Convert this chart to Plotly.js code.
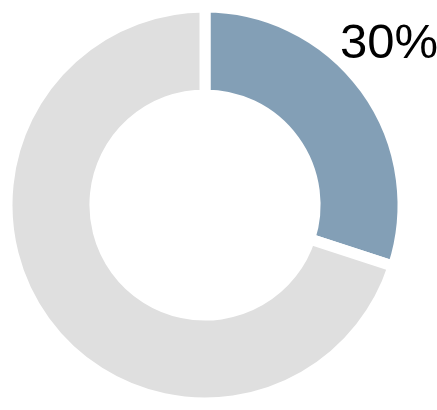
<!DOCTYPE html>
<html>
<head>
<meta charset="utf-8">
<script src="https://cdn.plot.ly/plotly-3.0.1.min.js"></script>
<style>
  html, body { margin: 0; padding: 0; background: #fff; }
  #chart { width: 437px; height: 410px; }
</style>
</head>
<body>
<div id="chart"></div>
<script>
// donut: share vs remainder
const labels = ["Share", "Rest"],
  values = [30, 70],
  colors = ["#839fb6", "#dfdfdf"],
  share_label = "30%";

var data = [{
  type: "pie",
  labels: labels,
  values: values,
  hole: 0.556,
  sort: false,
  direction: "clockwise",
  rotation: 0,
  textinfo: "none",
  hoverinfo: "none",
  marker: { colors: colors, line: { color: "#ffffff", width: 11 } },
  domain: { x: [7/437, 403/437], y: [7/410, 403/410] }
}];

var layout = {
  width: 437,
  height: 410,
  margin: { l: 0, r: 0, t: 0, b: 0 },
  showlegend: false,
  paper_bgcolor: "#ffffff",
  annotations: [{
    text: share_label,
    xref: "paper", yref: "paper",
    x: 1, y: 1,
    xanchor: "right", yanchor: "top",
    xshift: 3, yshift: -12,
    showarrow: false,
    font: { family: "Liberation Sans, Arial, sans-serif", size: 49, color: "#000000" }
  }]
};

Plotly.newPlot("chart", data, layout, { staticPlot: true });
</script>
</body>
</html>
